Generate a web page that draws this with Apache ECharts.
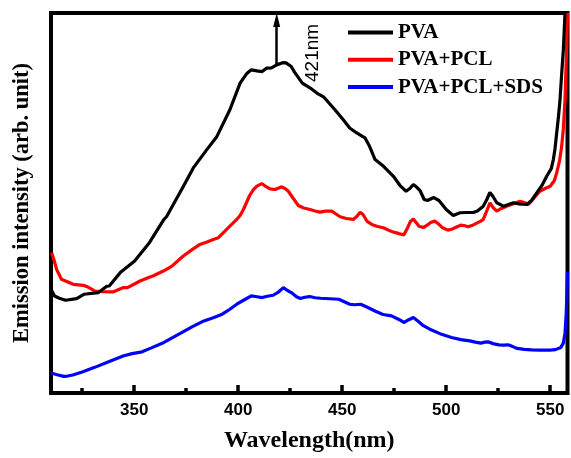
<!DOCTYPE html>
<html>
<head>
<meta charset="utf-8">
<script src="https://cdn.jsdelivr.net/npm/echarts@6/dist/echarts.min.js"></script>
<style>
  html, body { margin: 0; padding: 0; background: #fff; }
  #chart { width: 571px; height: 458px; }
</style>
</head>
<body>
<div id="chart"></div>
<script>
// ---- Data (intensity in arbitrary units) ----
const seriesNames = ['PVA', 'PVA+PCL', 'PVA+PCL+SDS'];
const majorTicks = [350, 400, 450, 500, 550];
const minorTicks = [325, 375, 425, 475, 525];
const peakLabel = '421nm';
const peakWavelength = 418.5;

const pvaX = [310, 311.7, 314, 317, 322.3, 325.8, 332.8, 336.8, 338, 343.3, 350.2, 351, 357.3, 364.3, 365.6, 373.6, 378.4, 384.9, 389.7, 396, 400.9, 404, 406.3, 409, 411.5, 413.7, 416, 418.5, 421.7, 423, 425.5, 427, 430.8, 434.5, 437.8, 441, 446.5, 450.5, 453.6, 457, 459.7, 461, 463, 465.8, 470, 474.6, 477.8, 480.7, 482.5, 484.2, 486, 487.4, 489.4, 491, 494, 496.5, 500, 503.4, 506.6, 510, 513, 515, 517.8, 519.5, 521, 522.5, 524.3, 527.5, 532.3, 535, 538.7, 541, 543.5, 546, 548.3, 550.5, 551.5, 552.3, 553.1, 554, 554.7, 555.5, 556.3, 557.1, 558];
const pvaY = [104, 97.3, 95, 93, 94.7, 99, 100.7, 107, 107.3, 120.7, 132.3, 134, 150.7, 174, 177, 207, 225.7, 244, 257, 284, 310.7, 320, 324, 323, 322.3, 325.7, 326, 329, 331.3, 331, 327.3, 322, 310.7, 306, 300.7, 297, 284, 274, 265.7, 260.7, 257.3, 255.7, 248, 234, 227, 217.3, 208, 202.3, 205, 209, 206, 203, 194, 193, 196, 193, 184, 178, 180.7, 181, 181, 182.5, 187.3, 194, 201, 197, 190.7, 187.3, 190.7, 189.5, 189, 193, 200.7, 208, 217.3, 225, 234, 245, 260.7, 278, 294, 320, 344, 381, 420];

const pclX = [310.3, 311.5, 312.7, 315, 317, 320.7, 325.5, 328, 331, 335, 339.8, 344.8, 346.8, 352.8, 357.6, 359, 364, 368, 373.6, 378, 381.6, 385, 388, 390.5, 393, 396, 399.3, 400.9, 402.5, 404, 405.5, 407.3, 409, 411.3, 413, 415.3, 417.7, 419.5, 420.9, 422.5, 424.1, 426.5, 428.9, 431.5, 434.5, 437, 439.3, 442, 445, 447, 449, 452, 455.3, 457, 458.6, 460, 462, 464.2, 467, 469.8, 472, 474.6, 477, 479.6, 481.5, 482.8, 484.2, 485.5, 487, 489.2, 491, 492.5, 494.5, 496, 498, 500.8, 503, 505, 507, 509, 510.5, 513, 516.6, 517.8, 519, 521, 522.5, 524.3, 526.5, 529, 532, 535.5, 537.5, 539.5, 542, 545, 548, 550, 552, 553.1, 554.5, 555.5, 556.3, 557.1, 557.8, 558.3];
const pclY = [140.7, 133, 124, 114, 112.3, 109, 108, 106, 102.3, 101.5, 101.3, 105.7, 105.7, 112.3, 116.3, 117.3, 122.3, 127, 137.3, 144, 149, 151.5, 154, 155.7, 161, 167.3, 174, 178, 184, 191, 198, 204, 207.5, 210, 207.5, 204.7, 204, 205.5, 206.7, 205, 202.3, 195, 188, 185.5, 184, 182.5, 181.3, 182.3, 182.3, 179.5, 176.7, 175, 174, 177, 181.3, 179, 172, 169, 167, 165.7, 163.5, 161.3, 160, 158.5, 166, 172, 174.5, 171, 167, 166, 168.5, 171, 172.3, 170, 166, 163.3, 164.5, 166.5, 168.3, 167.7, 166.7, 168.5, 172.3, 174, 180, 190.7, 186, 182.3, 185, 187.3, 189.5, 192.3, 191, 189, 195, 202.3, 205.5, 207.3, 213, 220.7, 233, 247.3, 265, 294, 340, 381];

const sdsX = [310, 313, 316.1, 318, 320.5, 325, 331, 338, 345, 349, 353.8, 358, 364.3, 368, 373, 378, 383.5, 388, 392.3, 396, 399.3, 403, 406.3, 409, 411.5, 414, 416.8, 419.5, 421.7, 423.5, 425.5, 428, 429.9, 432, 434.3, 437, 439.6, 444, 448.3, 451, 453.6, 456, 458.8, 460.5, 462.3, 466, 469.3, 471.5, 473.7, 477, 479.8, 482, 484.2, 486.5, 489, 492.1, 497, 502.6, 507, 511.3, 514, 516.6, 518.5, 520.1, 522.5, 525.3, 527.5, 529.7, 532, 534.1, 537.5, 541.1, 545, 549.9, 552.5, 555.1, 556.3, 557.1, 557.7, 558.3];
const sdsY = [20, 18.3, 16.7, 17, 18, 21, 25.7, 31.5, 37.3, 39.5, 41.3, 45, 50.7, 55, 60.7, 66.5, 72.3, 75.5, 79, 84, 89, 93.5, 97.3, 96.5, 95.7, 97, 98, 101.5, 105.7, 103, 100.7, 96.5, 94.7, 96, 96.7, 95.5, 95, 94.5, 94, 91.5, 89, 88.5, 89, 87.5, 85.7, 82, 79, 78, 77.3, 74, 70.7, 73.5, 75.7, 72, 67.5, 64, 59.5, 55.7, 53.5, 52.3, 51, 50, 51, 51.3, 49.5, 48.3, 48, 48.3, 46.5, 44.7, 43.7, 43.3, 43, 43, 43.5, 45.7, 50, 60, 80, 121];

const zip = (xs, ys) => xs.map((x, i) => [x, ys[i]]);

const serifBold = { fontFamily: 'Liberation Serif', fontWeight: 'bold', color: '#000' };

const chart = echarts.init(document.getElementById('chart'), null, { renderer: 'canvas' });

chart.setOption({
  animation: false,
  backgroundColor: '#fff',
  grid: {
    left: 51, right: 3.5, top: 13, bottom: 64,
    show: true, borderColor: '#000', borderWidth: 4, backgroundColor: 'transparent'
  },
  legend: {
    orient: 'vertical',
    left: 343, top: 17,
    itemWidth: 45, itemHeight: 4, itemGap: 6.3,
    icon: 'rect',
    data: seriesNames,
    textStyle: Object.assign({ fontSize: 21, lineHeight: 21 }, serifBold)
  },
  xAxis: [
    {
      type: 'value', min: 310, max: 558.3,
      axisLine: { show: false },
      splitLine: { show: false },
      axisTick: { show: true, inside: true, length: 8, customValues: majorTicks, lineStyle: { color: '#000', width: 3.5 } },
      axisLabel: { customValues: majorTicks, margin: 9, fontFamily: 'Liberation Sans', fontWeight: 'bold', fontSize: 17, color: '#000' },
      name: 'Wavelength(nm)', nameLocation: 'middle', nameGap: 36,
      nameTextStyle: Object.assign({ fontSize: 24 }, serifBold)
    },
    {
      type: 'value', min: 310, max: 558.3,
      axisLine: { show: false },
      splitLine: { show: false },
      axisTick: { show: true, inside: true, length: 5, customValues: minorTicks, lineStyle: { color: '#000', width: 3.5 } },
      axisLabel: { show: false },
      position: 'bottom'
    }
  ],
  yAxis: {
    type: 'value', min: 0, max: 381,
    axisLine: { show: false }, axisTick: { show: false }, axisLabel: { show: false }, splitLine: { show: false },
    name: 'Emission intensity (arb. unit)', nameLocation: 'middle', nameGap: 17,
    nameTextStyle: Object.assign({ fontSize: 22.5 }, serifBold)
  },
  series: [
    {
      name: seriesNames[0], type: 'line', xAxisIndex: 0, color: '#000000',
      data: zip(pvaX, pvaY), showSymbol: false, symbol: 'none',
      lineStyle: { width: 3.2, color: '#000000' }, z: 3,
      markLine: {
        silent: true, animation: false,
        symbol: ['none', 'triangle'],
        lineStyle: { color: '#000', width: 2.5, type: 'solid' },
        label: { show: false },
        data: [[
          { coord: [peakWavelength, 329], symbol: 'none' },
          { coord: [peakWavelength, 374], symbol: 'triangle', symbolSize: [7, 14] }
        ]]
      },
      markPoint: {
        silent: true, animation: false,
        symbol: 'circle', symbolSize: 0,
        label: { show: true, position: 'inside', rotate: 90, formatter: peakLabel, fontFamily: 'Liberation Sans', fontSize: 19, color: '#000' },
        data: [{ coord: [436, 341] }]
      }
    },
    {
      name: seriesNames[1], type: 'line', xAxisIndex: 0, color: '#ff0000',
      data: zip(pclX, pclY), showSymbol: false, symbol: 'none',
      lineStyle: { width: 3.2, color: '#ff0000' }, z: 2
    },
    {
      name: seriesNames[2], type: 'line', xAxisIndex: 0, color: '#0000ff',
      data: zip(sdsX, sdsY), showSymbol: false, symbol: 'none',
      lineStyle: { width: 3.2, color: '#0000ff' }, z: 2
    }
  ]
});
</script>
</body>
</html>
